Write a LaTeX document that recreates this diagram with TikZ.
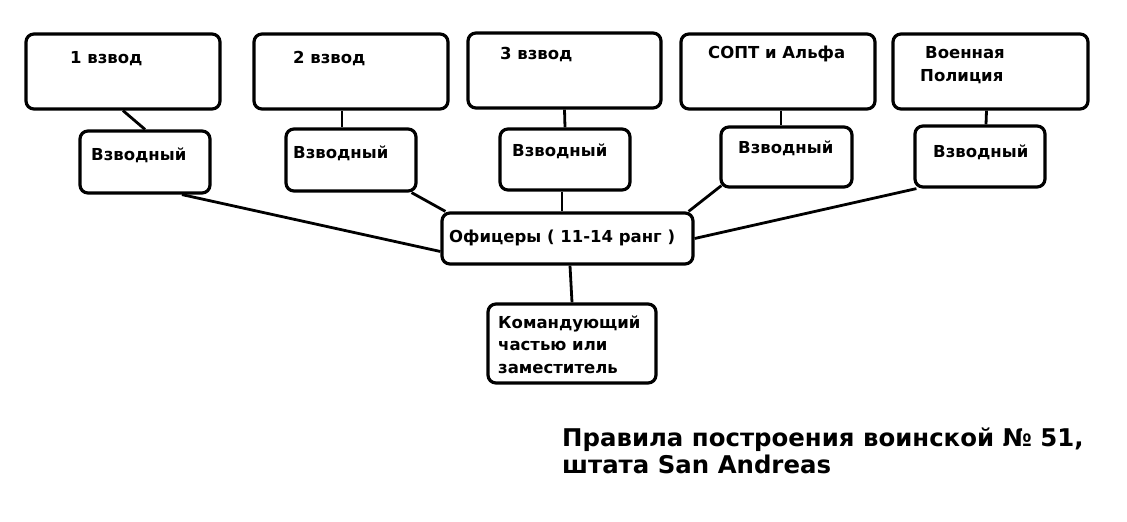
\documentclass[tikz,border=0pt]{standalone}
\usepackage{fontspec}
\setmainfont{DejaVu Sans}
\usepackage{tikz}
\usetikzlibrary{calc, positioning}
\tikzset{
    box/.style={draw, line width=3.2pt, rounded corners=8pt, inner sep=0pt},
    txt/.style={anchor=base west, inner sep=0pt, align=left, font=\fontsize{16.5}{22.5}\selectfont\bfseries},
    link/.style={line width=2.8pt}
}
\newcommand{\drawB}[5]{
    \node[box, minimum width=#4, minimum height=#5] (#1) at (#2,#3) {};
}
\newcommand{\drawT}[4]{
    \node[txt] (#1) at (#2,#3) {#4};
}

\begin{document}
\begin{tikzpicture}[x=1pt, y=-1pt]
    \useasboundingbox (0,0) rectangle (1127,522);
    % Units
        \drawB{t1}{123}{71.5}{194}{75}
        \drawB{t2}{351}{71.5}{194}{75}
        \drawB{t3}{564.5}{70.5}{193}{75}
        \drawB{t4}{778}{71.5}{194}{75}
        \drawB{t5}{990.5}{71.5}{195}{75}
        \drawT{t1text}{70}{63}{1 взвод}
        \drawT{t2text}{293}{63}{2 взвод}
        \drawT{t3text}{500}{59}{3 взвод}
        \drawT{t4text}{708}{58}{СОПТ и Альфа}
        \drawT{t5text}{920}{81}{\hspace*{5pt}Военная\\Полиция}

    % Platoon leaders
        \drawB{v1}{145}{162}{130}{62}
        \drawB{v2}{351}{160}{130}{62}
        \drawB{v3}{565}{159.5}{130}{61}
        \drawB{v4}{786.5}{157}{131}{60}
        \drawB{v5}{980}{156.5}{130}{61}
        \drawT{v1text}{91}{160}{Взводный}
        \drawT{v2text}{293}{158}{Взводный}
        \drawT{v3text}{512}{156}{Взводный}
        \drawT{v4text}{738}{153}{Взводный}
        \drawT{v5text}{933}{157}{Взводный}

    % Officers and commander
        \drawB{off}{567.5}{238.5}{251}{51}
        \drawB{cmd}{572}{343.5}{168}{79}
        \drawT{offtext}{449}{242}{Офицеры ( 11-14 ранг )}
        \drawT{cmdtext}{498}{373}{Командующий\\частью или\\заместитель}

    % Links
        \draw[link] (t1.south) -- (v1.north);
        \draw[link] ($(t2.south)+(-9,0)$) -- ($(v2.north)+(-9,0)$);
        \draw[link] (t3.south) -- (v3.north);
        \draw[link] ($(t4.south)+(3,0)$) -- ($(v4.north)+(-5.5,0)$);
        \draw[link] ($(t5.south)+(-4,0)$) -- ($(v5.north)+(6,0)$);
        \draw[link] ($(v1.south)+(37,0)$) -- ($(off.west)+(0,13)$);
        \draw[link] ($(v2.south east)+(-6,0)$) -- ($(off.north west)+(5,0)$);
        \draw[link] ($(v3.south)+(-3,0)$) -- ($(off.north)+(-5.5,0)$);
        \draw[link] ($(v4.south west)+(2,-3)$) -- ($(off.north east)+(-6,0)$);
        \draw[link] ($(v5.south west)+(3,0)$) -- (off.east);
        \draw[link] ($(off.south)+(2.5,0)$) -- ($(cmd.north)+(0,0)$);

    % Title
        \node[txt, font=\fontsize{24.4}{26.5}\selectfont\bfseries] (title) at (562,473) {Правила построения воинской № 51,\\штата San Andreas};
\end{tikzpicture}
\end{document}
